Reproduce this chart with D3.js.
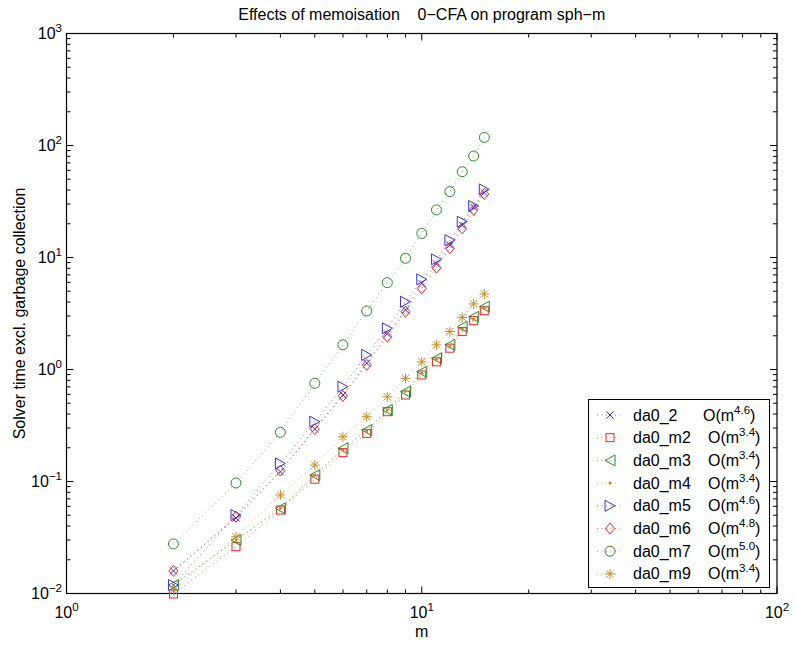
<!DOCTYPE html>
<html><head><meta charset="utf-8">
<script src="https://cdn.jsdelivr.net/npm/d3@7"></script>
<style>
body{margin:0;background:#fff;}
svg{display:block;font-family:"Liberation Sans",Arial,Helvetica,sans-serif;}
</style></head>
<body>
<svg id="chart" width="794" height="646"></svg>
<script>
// ---------- data ----------
const mValues = [2,3,4,5,6,7,8,9,10,11,12,13,14,15];
const da0_2  = [0.0159,0.0472,0.122,0.294,0.592,1.14,2.08,3.40,5.88,8.75,12.9,19.5,28.1,37.9];
const da0_m2 = [0.0099,0.0262,0.0556,0.105,0.181,0.269,0.420,0.592,0.893,1.17,1.55,2.18,2.73,3.35];
const da0_m3 = [0.0119,0.0300,0.0576,0.114,0.198,0.288,0.435,0.634,0.955,1.26,1.66,2.41,2.96,3.64];
const da0_m4 = [0.0119,0.0300,0.0578,0.114,0.191,0.284,0.435,0.643,0.925,1.24,1.60,2.29,2.81,3.52];
const da0_m5 = [0.0119,0.0502,0.145,0.342,0.702,1.35,2.33,4.03,6.39,9.64,14.3,20.9,28.8,40.6];
const da0_m6 = [0.0159,0.0485,0.125,0.294,0.580,1.10,1.96,3.28,5.31,8.11,12.1,18.2,26.6,36.9];
const da0_m7 = [0.0277,0.0970,0.275,0.753,1.66,3.33,5.96,9.84,16.4,26.6,38.7,58.3,80.6,118];
const da0_m9 = [0.0107,0.0321,0.0758,0.140,0.251,0.379,0.571,0.834,1.17,1.66,2.18,2.92,3.85,4.72];

const seriesNames = ["da0_2","da0_m2","da0_m3","da0_m4","da0_m5","da0_m6","da0_m7","da0_m9"];
const seriesValues = [da0_2,da0_m2,da0_m3,da0_m4,da0_m5,da0_m6,da0_m7,da0_m9];
const exponents = ["4.6","3.4","3.4","3.4","4.6","4.8","5.0","3.4"];
const markers = ["x","square","triangleLeft","dot","triangleRight","diamond","circle","star"];
const colors = ["#3535c8","#de2a2a","#2a8a2a","#c48d2c","#3535c8","#de2a2a","#2a8a2a","#c48d2c"];

const xTickExps = [0,1,2];
const yTickExps = [-2,-1,0,1,2,3];
const titleText = "Effects of memoisation    0\u2212CFA on program sph\u2212m";
const xLabel = "m";
const yLabel = "Solver time excl. garbage collection";

// ---------- layout ----------
const L = 66.5, R = 777, T = 33.5, B = 593.5;
const svg = d3.select("#chart");
const x = d3.scaleLog().domain([1,100]).range([L,R]);
const y = d3.scaleLog().domain([0.01,1000]).range([B,T]);
const FS = 16;

// ticks
const minorX = [], minorY = [];
[1,10].forEach(d => { for (let k=2;k<=9;k++) minorX.push(d*k); });
[0.01,0.1,1,10,100].forEach(d => { for (let k=2;k<=9;k++) minorY.push(d*k); });
const tickG = svg.append("g").attr("stroke","#000").attr("stroke-width",1);
const majLen = 7, minLen = 4;
xTickExps.forEach(e => {
  const v = Math.pow(10,e), px = x(v);
  tickG.append("line").attr("x1",px).attr("x2",px).attr("y1",B).attr("y2",B-majLen);
  tickG.append("line").attr("x1",px).attr("x2",px).attr("y1",T).attr("y2",T+majLen);
});
minorX.forEach(v => {
  const px = x(v);
  tickG.append("line").attr("x1",px).attr("x2",px).attr("y1",B).attr("y2",B-minLen);
  tickG.append("line").attr("x1",px).attr("x2",px).attr("y1",T).attr("y2",T+minLen);
});
yTickExps.forEach(e => {
  const v = Math.pow(10,e), py = y(v);
  tickG.append("line").attr("x1",L).attr("x2",L+majLen).attr("y1",py).attr("y2",py);
  tickG.append("line").attr("x1",R).attr("x2",R-majLen).attr("y1",py).attr("y2",py);
});
minorY.forEach(v => {
  const py = y(v);
  tickG.append("line").attr("x1",L).attr("x2",L+minLen).attr("y1",py).attr("y2",py);
  tickG.append("line").attr("x1",R).attr("x2",R-minLen).attr("y1",py).attr("y2",py);
});

// tick labels
const fmtExp = e => (e < 0 ? "\u2212" + Math.abs(e) : String(e));
xTickExps.forEach(e => {
  const t = svg.append("text").attr("x",x(Math.pow(10,e))).attr("y",618)
    .attr("text-anchor","middle").attr("font-size",FS).attr("fill","#000");
  t.append("tspan").text("10");
  t.append("tspan").attr("dy",-7).attr("font-size",11.5).text(fmtExp(e));
});
yTickExps.forEach(e => {
  const t = svg.append("text").attr("x",62).attr("y",y(Math.pow(10,e))+5.5)
    .attr("text-anchor","end").attr("font-size",FS).attr("fill","#000");
  t.append("tspan").text("10");
  t.append("tspan").attr("dy",-7).attr("font-size",11.5).text(fmtExp(e));
});

// box
svg.append("rect").attr("x",L).attr("y",T).attr("width",R-L).attr("height",B-T)
  .attr("fill","none").attr("stroke","#000").attr("stroke-width",1.2);

// titles
svg.append("text").attr("x",(L+R)/2).attr("y",19.5).attr("text-anchor","middle")
  .attr("font-size",FS).style("white-space","pre").attr("xml:space","preserve").text(titleText);
svg.append("text").attr("x",(L+R)/2).attr("y",637).attr("text-anchor","middle")
  .attr("font-size",FS).text(xLabel);
svg.append("text").attr("transform",`translate(25,${(T+B)/2}) rotate(-90)`)
  .attr("text-anchor","middle").attr("font-size",FS).text(yLabel);

// marker drawing
function drawMarker(g, type, cx, cy, color) {
  const s = g.append("g").attr("transform",`translate(${cx},${cy})`)
    .attr("stroke",color).attr("fill","none").attr("stroke-width",1);
  switch(type) {
    case "x":
      s.append("path").attr("d","M-3.5,-3.5L3.5,3.5M-3.5,3.5L3.5,-3.5"); break;
    case "square":
      s.append("rect").attr("x",-4).attr("y",-4).attr("width",8).attr("height",8); break;
    case "triangleLeft":
      s.append("path").attr("d","M-5,0L5,-5.5L5,5.5Z"); break;
    case "triangleRight":
      s.append("path").attr("d","M5,0L-5,-5.5L-5,5.5Z"); break;
    case "dot":
      s.append("circle").attr("r",1.6).attr("fill",color).attr("stroke","none"); break;
    case "diamond":
      s.append("path").attr("d","M0,-5.5L4.5,0L0,5.5L-4.5,0Z"); break;
    case "circle":
      s.append("circle").attr("r",5); break;
    case "star":
      s.append("path").attr("d","M-5,0L5,0M0,-5L0,5M-3.6,-3.6L3.6,3.6M-3.6,3.6L3.6,-3.6"); break;
  }
}

// series
const line = d3.line().x(d => x(d[0])).y(d => y(d[1]));
const plotG = svg.append("g");
seriesValues.forEach((vals, i) => {
  const pts = mValues.map((m,j) => [m, vals[j]]);
  plotG.append("path").attr("d", line(pts)).attr("fill","none")
    .attr("stroke",colors[i]).attr("stroke-width",1).attr("stroke-dasharray","1,3.5")
    .attr("opacity",0.7);
  pts.forEach(p => drawMarker(plotG, markers[i], x(p[0]), y(p[1]), colors[i]));
});

// legend
const lg = svg.append("g");
lg.append("rect").attr("x",588.5).attr("y",399.5).attr("width",181).attr("height",188)
  .attr("fill","#fff").attr("stroke","#000").attr("stroke-width",1);
seriesNames.forEach((name, i) => {
  const ry = 415 + i*22.7;
  lg.append("line").attr("x1",597).attr("x2",620).attr("y1",ry).attr("y2",ry)
    .attr("stroke",colors[i]).attr("stroke-width",1).attr("stroke-dasharray","1,3.5").attr("opacity",0.7);
  drawMarker(lg, markers[i], 610, ry, colors[i]);
  lg.append("text").attr("x",633).attr("y",ry+5.5).attr("font-size",FS).text(name);
  const t = lg.append("text").attr("x", name.length < 6 ? 703 : 708).attr("y",ry+5.5).attr("font-size",FS);
  t.append("tspan").text("O(m");
  t.append("tspan").attr("dy",-7).attr("font-size",11.5).text(exponents[i]);
  t.append("tspan").attr("dy",7).text(")");
});
</script>
</body></html>
